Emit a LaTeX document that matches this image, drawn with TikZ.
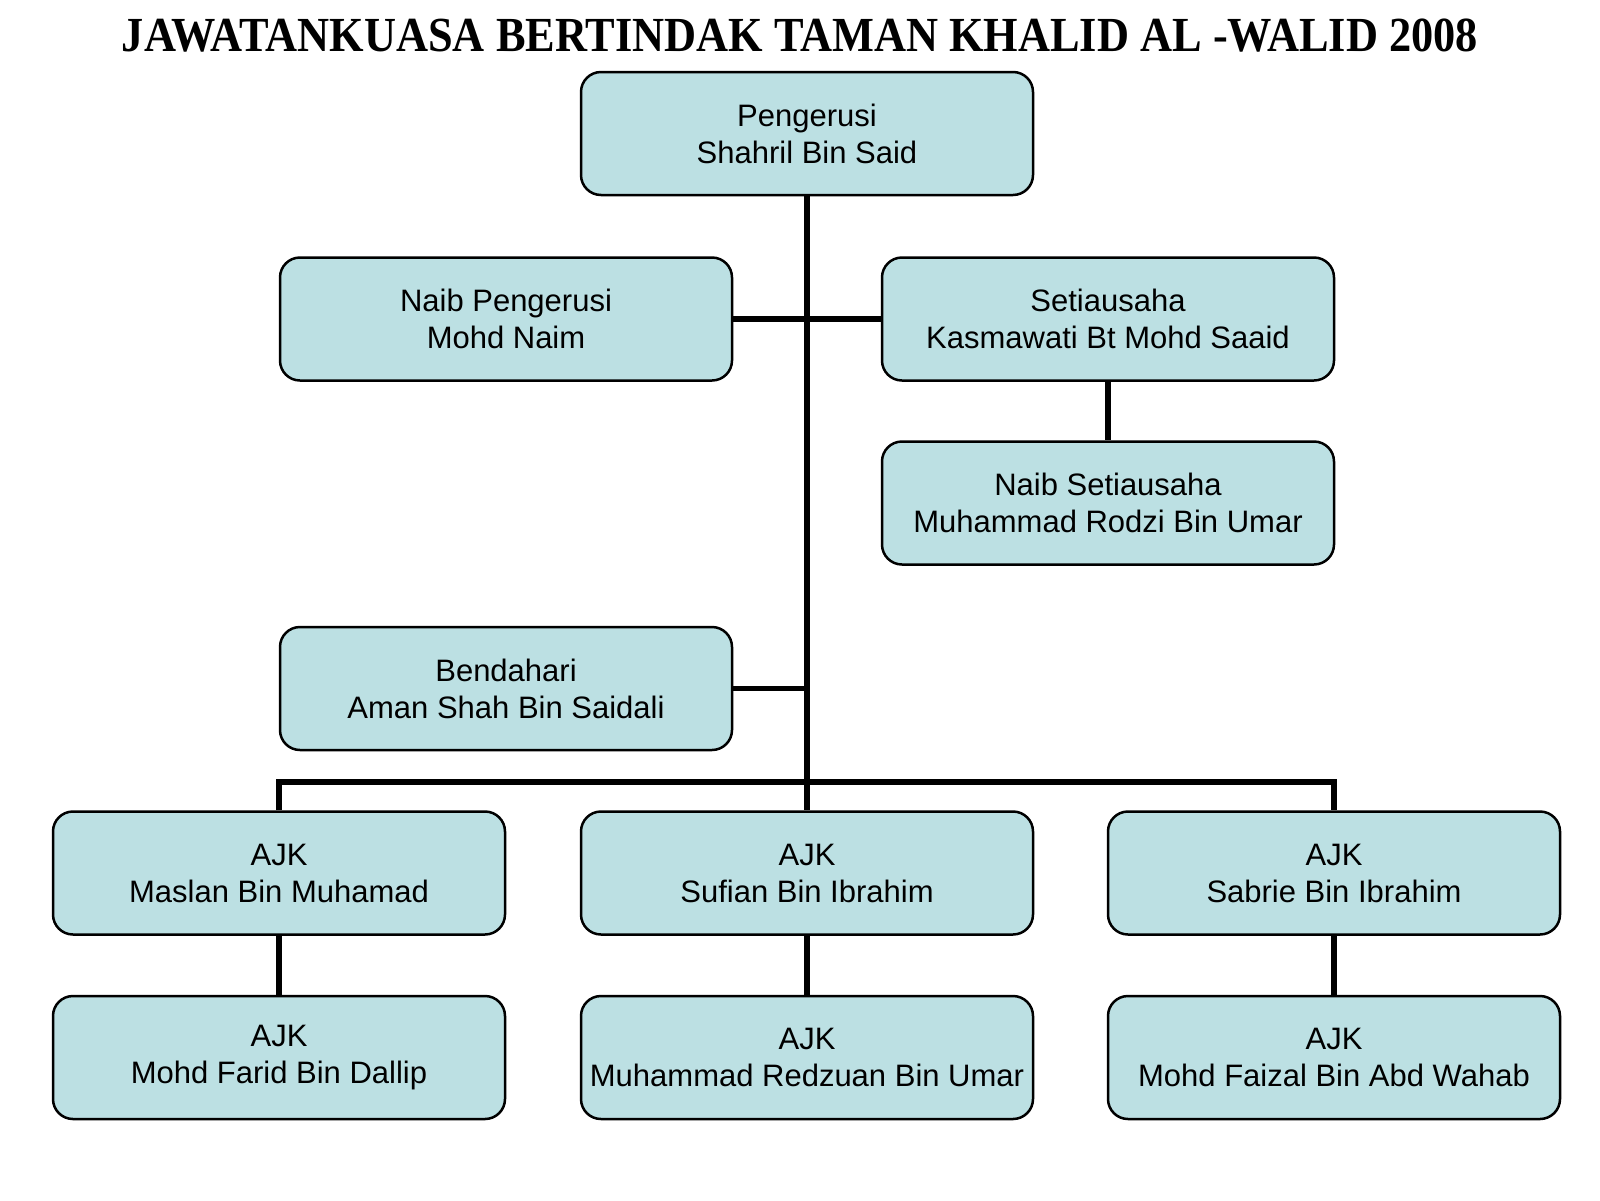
\documentclass[tikz,border=0pt]{standalone}
\usepackage{fontspec}
\setmainfont{Liberation Sans}
\newfontfamily\titlefont{Liberation Serif}
\definecolor{boxfill}{RGB}{188,224,227}
\tikzset{
  orgbox/.style={draw=black, line width=2.5pt, fill=boxfill, rounded corners=20pt,
    minimum width=452pt, minimum height=123pt, align=center, inner sep=0pt,
    font=\fontsize{31}{37}\selectfont},
  link/.style={draw=black, line width=5.5pt}
}
\begin{document}
\begin{tikzpicture}[x=1pt,y=-1pt]
\useasboundingbox[fill=white] (0,0) rectangle (1600,1200);
\node (title) at (800,36) {\titlefont\bfseries\fontsize{49}{52}\selectfont\scalebox{0.905}[1]{JAWATANKUASA BERTINDAK TAMAN KHALID AL -WALID 2008}};
\coordinate (bus) at (807,782);
\node[orgbox] (P) at (807,133.5) {Pengerusi\\Shahril Bin Said};
\node[orgbox] (NP) at (506,319) {Naib Pengerusi\\Mohd Naim};
\node[orgbox] (S) at (1108,319) {Setiausaha\\Kasmawati Bt Mohd Saaid};
\node[orgbox] (NS) at (1108,503) {Naib Setiausaha\\Muhammad Rodzi Bin Umar};
\node[orgbox] (B) at (506,688.5) {Bendahari\\Aman Shah Bin Saidali};
\node[orgbox] (A1) at (279,873) {AJK\\Maslan Bin Muhamad};
\node[orgbox] (A2) at (807,873) {AJK\\Sufian Bin Ibrahim};
\node[orgbox] (A3) at (1334,873) {AJK\\Sabrie Bin Ibrahim};
\node[orgbox] (A4) at (279,1057.5) {AJK\\Mohd Farid Bin Dallip};
\node[orgbox] (A5) at (807,1057.5) {AJK\\Muhammad Redzuan Bin Umar};
\node[orgbox] (A6) at (1334,1057.5) {AJK\\Mohd Faizal Bin Abd Wahab};
\draw[link] (P.south) -- (A2.north);
\draw[link] (NP.east) -- (S.west);
\draw[link] (B.east) -- (B.east -| P.south);
\draw[link] (A1.north) |- (bus) -| (A3.north);
\draw[link] (S.south) -- (NS.north);
\draw[link] (A1.south) -- (A4.north);
\draw[link] (A2.south) -- (A5.north);
\draw[link] (A3.south) -- (A6.north);
\end{tikzpicture}
\end{document}
